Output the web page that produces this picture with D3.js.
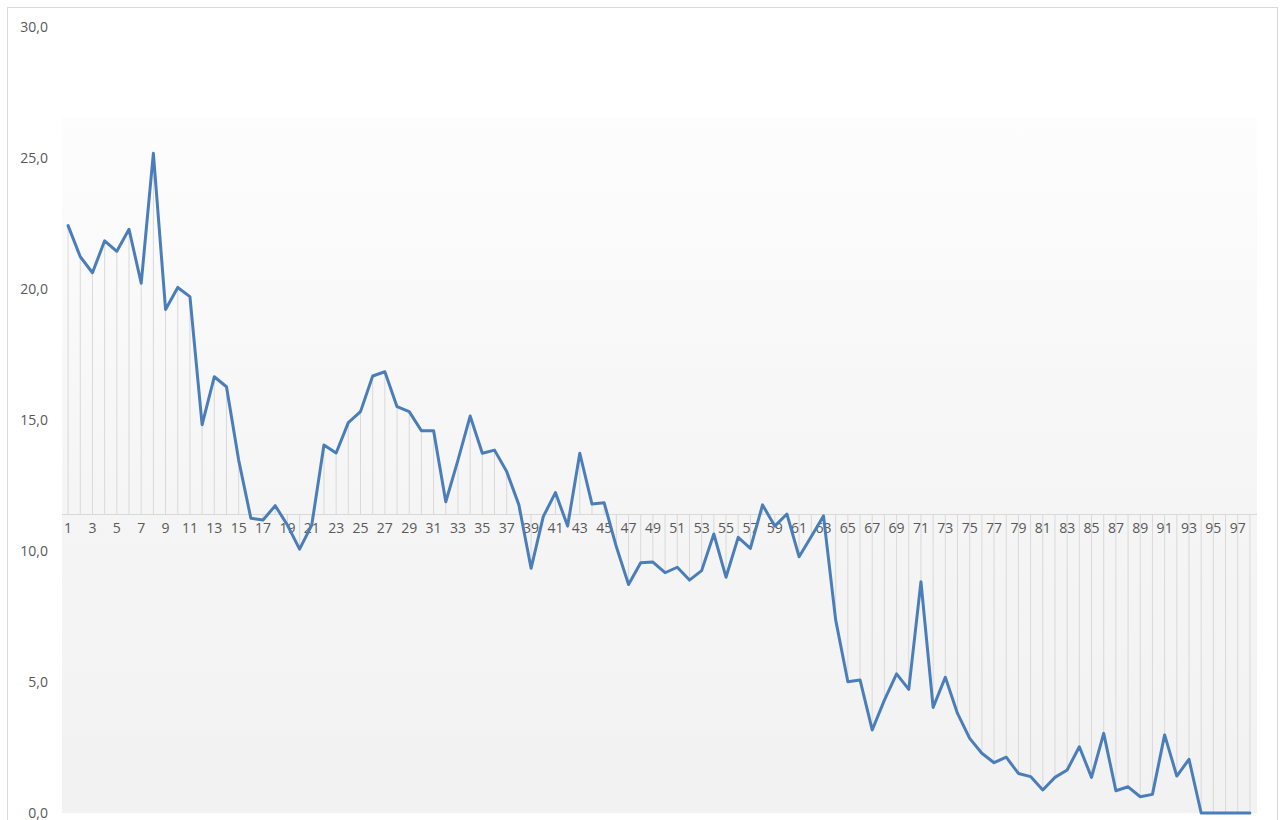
<!DOCTYPE html>
<html>
<head>
<meta charset="utf-8">
<script src="https://cdn.jsdelivr.net/npm/d3@7"></script>
<style>
  html, body { margin: 0; padding: 0; background: #ffffff; }
  svg { display: block; }
</style>
</head>
<body>
<svg id="chart" width="1280" height="820"></svg>
<script>
// ---- data ----
const categories = d3.range(1, 99);
const values = [
  22.42, 21.23, 20.62, 21.84, 21.44, 22.28, 20.22, 25.18, 19.22, 20.06,
  19.71, 14.82, 16.65, 16.27, 13.47, 11.25, 11.18, 11.73, 10.99, 10.07,
  10.99, 14.05, 13.74, 14.90, 15.32, 16.68, 16.84, 15.51, 15.32, 14.59,
  14.59, 11.88, 13.47, 15.15, 13.73, 13.85, 13.03, 11.76, 9.34, 11.31,
  12.23, 10.95, 13.73, 11.79, 11.84, 10.16, 8.72, 9.55, 9.58, 9.17,
  9.38, 8.89, 9.25, 10.65, 9.00, 10.52, 10.10, 11.76, 10.95, 11.41,
  9.78, 10.55, 11.34, 7.37, 5.01, 5.08, 3.17, 4.31, 5.31, 4.72,
  8.83, 4.03, 5.18, 3.80, 2.85, 2.28, 1.92, 2.13, 1.51, 1.39,
  0.88, 1.36, 1.64, 2.53, 1.36, 3.04, 0.85, 1.00, 0.62, 0.71,
  2.98, 1.41, 2.05, 0.00, 0.00, 0.00, 0.00, 0.00
];
const yTicks = [0, 5, 10, 15, 20, 25, 30];
const xTickLabels = categories.filter(c => c % 2 === 1);
const axisCross = 11.4;

// ---- layout ----
const svg = d3.select("#chart");
const plotLeft = 62, plotRight = 1256, plotTop = 27, plotBottom = 813;
const bgTop = 117;

const x = d3.scaleBand().domain(categories).range([plotLeft, plotRight]).paddingInner(0).paddingOuter(0);
const y = d3.scaleLinear().domain([0, 30]).range([plotBottom, plotTop]);
const cx = c => x(c) + x.bandwidth() / 2;
const data = categories.map((c, i) => ({ c, v: values[i] }));

// outer chart border
svg.append("rect")
  .attr("x", 7.5).attr("y", 7.5).attr("width", 1270).attr("height", 830)
  .attr("fill", "#ffffff").attr("stroke", "#d9d9d9").attr("stroke-width", 1);

// plot area gradient
const defs = svg.append("defs");
const grad = defs.append("linearGradient").attr("id", "bg").attr("x1", 0).attr("y1", 0).attr("x2", 0).attr("y2", 1);
grad.append("stop").attr("offset", "0%").attr("stop-color", "#fdfdfd");
grad.append("stop").attr("offset", "55%").attr("stop-color", "#f5f5f5");
grad.append("stop").attr("offset", "100%").attr("stop-color", "#f2f2f2");
svg.append("rect")
  .attr("x", plotLeft).attr("y", bgTop)
  .attr("width", plotRight - plotLeft + 1).attr("height", plotBottom - bgTop)
  .attr("fill", "url(#bg)");

// drop lines
svg.append("g").selectAll("line").data(data).join("line")
  .attr("x1", d => cx(d.c)).attr("x2", d => cx(d.c))
  .attr("y1", y(axisCross)).attr("y2", d => y(d.v))
  .attr("stroke", "#d9d9d9").attr("stroke-width", 1);

// category axis line
svg.append("line")
  .attr("x1", plotLeft).attr("x2", plotRight + 1)
  .attr("y1", Math.round(y(axisCross)) + 0.5).attr("y2", Math.round(y(axisCross)) + 0.5)
  .attr("stroke", "#d9d9d9").attr("stroke-width", 1);

// y labels
const yAxis = d3.axisLeft(y).tickValues(yTicks).tickSize(0).tickPadding(0)
  .tickFormat(d => d3.format(".1f")(d).replace(".", ","));
const yg = svg.append("g").attr("transform", "translate(48,0)").call(yAxis);
yg.select(".domain").remove();
yg.selectAll("text")
  .attr("font-family", "'Open Sans', 'Liberation Sans', sans-serif")
  .attr("font-size", 14).attr("fill", "#595959");

// x labels
const xAxis = d3.axisBottom(x).tickValues(xTickLabels).tickSize(0).tickPadding(0);
const xg = svg.append("g").attr("transform", `translate(0,${y(axisCross) + 9})`).call(xAxis);
xg.select(".domain").remove();
xg.selectAll("text")
  .attr("font-family", "'Open Sans', 'Liberation Sans', sans-serif")
  .attr("font-size", 14).attr("fill", "#595959");

// series line
const line = d3.line().x(d => cx(d.c)).y(d => y(d.v));
svg.append("path").datum(data)
  .attr("d", line)
  .attr("fill", "none")
  .attr("stroke", "#4a7ebb")
  .attr("stroke-width", 3)
  .attr("stroke-linejoin", "round")
  .attr("stroke-linecap", "round");
</script>
</body>
</html>
